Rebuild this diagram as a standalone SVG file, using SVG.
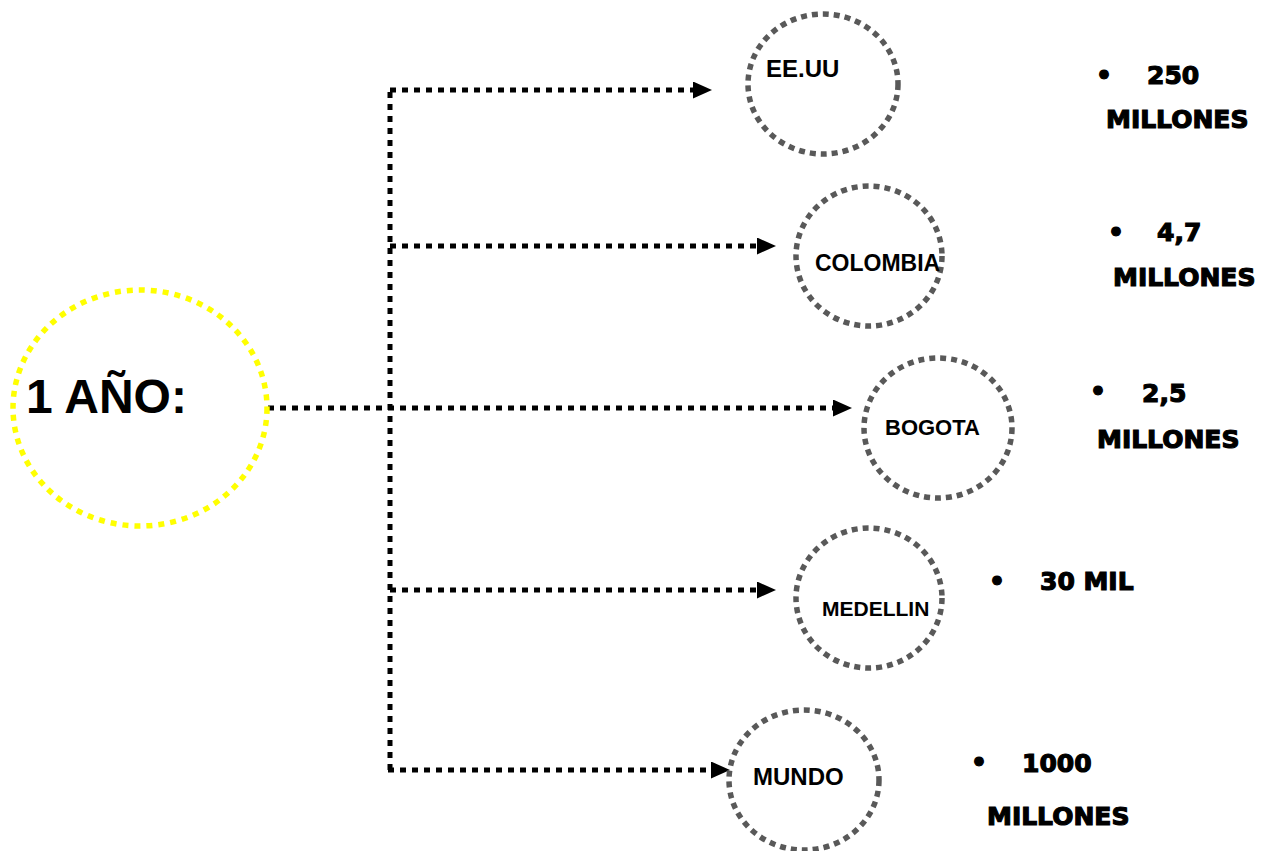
<svg xmlns="http://www.w3.org/2000/svg" width="1263" height="851" viewBox="0 0 1263 851">
  <defs>
    <marker id="arrow" markerUnits="userSpaceOnUse" markerWidth="20" markerHeight="18" refX="0" refY="8.5" orient="auto">
      <path d="M0,0 L19,8.5 L0,17 z" fill="#000"/>
    </marker>
    <style>
      .hub { fill: none; stroke: #ffff00; stroke-width: 5.5; stroke-dasharray: 6 6; }
      .ring { fill: none; stroke: #595959; stroke-width: 5.5; stroke-dasharray: 6 5; }
      .link { fill: none; stroke: #000; stroke-width: 5; stroke-dasharray: 6 6; }
      .label { font-family: "Liberation Sans", Arial, sans-serif; font-weight: bold; fill: #000; }
      .value { font-family: "DejaVu Sans", "Liberation Sans", sans-serif; font-weight: bold; fill: #000; stroke: #000; stroke-width: 1.2; font-size: 25px; }
    </style>
  </defs>

  <rect width="1263" height="851" fill="#fff"/>

  <!-- connectors: trunk and branches -->
  <g id="connectors">
    <path class="link" d="M390,770 L390,90"/>
    <path class="link" d="M390,90 L693,90" marker-end="url(#arrow)"/>
    <path class="link" d="M390,246 L757,246" marker-end="url(#arrow)"/>
    <path class="link" d="M268,408 L833,408" marker-end="url(#arrow)"/>
    <path class="link" d="M390,590 L757,590" marker-end="url(#arrow)"/>
    <path class="link" d="M388,770 L711,770" marker-end="url(#arrow)"/>
  </g>

  <g id="node-year">
    <ellipse class="hub" cx="140" cy="408" rx="127" ry="118"/>
    <text class="label" x="26" y="413" font-size="48">1 AÑO:</text>
  </g>

  <g id="node-eeuu">
    <ellipse class="ring" cx="823" cy="84" rx="75" ry="70"/>
    <text class="label" x="766" y="77" font-size="24">EE.UU</text>
  </g>

  <g id="node-colombia">
    <ellipse class="ring" cx="869" cy="256" rx="73" ry="70"/>
    <text class="label" x="815" y="271" font-size="23">COLOMBIA</text>
  </g>

  <g id="node-bogota">
    <ellipse class="ring" cx="938" cy="428" rx="74" ry="70"/>
    <text class="label" x="885" y="435" font-size="22">BOGOTA</text>
  </g>

  <g id="node-medellin">
    <ellipse class="ring" cx="869" cy="598" rx="73" ry="70"/>
    <text class="label" x="822" y="616" font-size="21">MEDELLIN</text>
  </g>

  <g id="node-mundo">
    <ellipse class="ring" cx="804" cy="780" rx="75" ry="70"/>
    <text class="label" x="753" y="785" font-size="24">MUNDO</text>
  </g>

  <!-- figures beside each node -->
  <g id="value-eeuu" class="value">
    <text x="1096" y="84">•</text>
    <text x="1147" y="84">250</text>
    <text x="1106" y="128">MILLONES</text>
  </g>
  <g id="value-colombia" class="value">
    <text x="1108" y="241">•</text>
    <text x="1157" y="241">4,7</text>
    <text x="1113" y="286">MILLONES</text>
  </g>
  <g id="value-bogota" class="value">
    <text x="1090" y="400">•</text>
    <text x="1142" y="402">2,5</text>
    <text x="1097" y="448">MILLONES</text>
  </g>
  <g id="value-medellin" class="value">
    <text x="989" y="590">•</text>
    <text x="1040" y="590">30 MIL</text>
  </g>
  <g id="value-mundo" class="value">
    <text x="971" y="771">•</text>
    <text x="1022" y="772">1000</text>
    <text x="987" y="825">MILLONES</text>
  </g>
</svg>
